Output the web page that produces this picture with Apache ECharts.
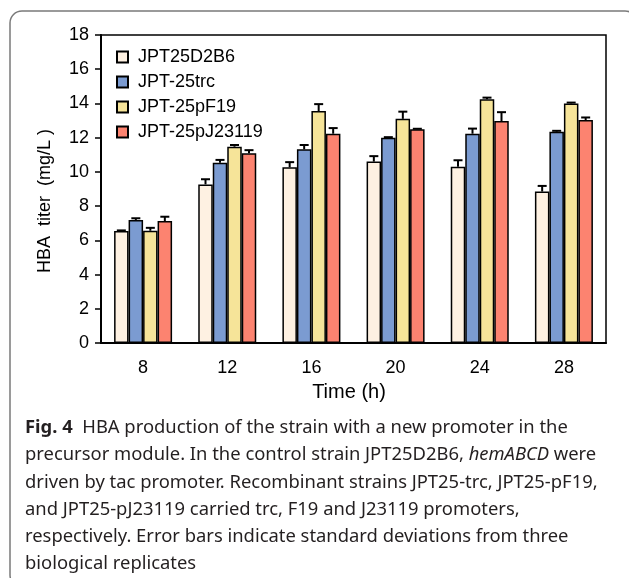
<!DOCTYPE html>
<html>
<head>
<meta charset="utf-8">
<script src="https://cdn.jsdelivr.net/npm/echarts@6/dist/echarts.min.js"></script>
<style>
  html, body { margin: 0; padding: 0; background: #fff; }
  #chart { width: 629px; height: 578px; }
</style>
</head>
<body>
<div id="chart"></div>
<script>
// time points (h)
const times = ["8", "12", "16", "20", "24", "28"]
const strains = ["JPT25D2B6", "JPT-25trc", "JPT-25pF19", "JPT-25pJ23119"]
const colors = ["#FEF1E2", "#7B9BD1", "#F6E499", "#FC8370"]

// HBA titer, mg/L
const d2b6 = [6.55, 9.27, 10.27, 10.6, 10.3, 8.85]
const trc = [7.19, 10.54, 11.32, 12.0, 12.23, 12.35]
const pf19 = [6.56, 11.47, 13.56, 13.1, 14.24, 14.0]
const pj23119 = [7.13, 11.09, 12.23, 12.49, 12.97, 13.03]

// standard deviations
const d2b6Err = [0.03, 0.3, 0.3, 0.32, 0.38, 0.33]
const trcErr = [0.1, 0.16, 0.25, 0.03, 0.3, 0.05]
const pf19Err = [0.17, 0.1, 0.4, 0.42, 0.1, 0.05]
const pj23119Err = [0.25, 0.18, 0.33, 0.03, 0.52, 0.15]

const yTicks = [0, 2, 4, 6, 8, 10, 12, 14, 16, 18]

const values = [d2b6, trc, pf19, pj23119]
const errors = [d2b6Err, trcErr, pf19Err, pj23119Err]

const BAR_W = 14.5
const ARIAL = '"Liberation Sans", Arial, sans-serif'

const chart = echarts.init(document.getElementById("chart"), null, { renderer: "canvas" })

const barSeries = strains.map((name, i) => ({
  name: name,
  type: "bar",
  data: values[i],
  barWidth: BAR_W,
  barGap: "0%",
  itemStyle: { color: colors[i], borderColor: "#000", borderWidth: 1.5 },
  z: 2,
}))

// error bars: stem + cap on top of each bar
const errSeries = strains.map((name, i) => ({
  name: "err-" + name,
  type: "custom",
  z: 3,
  data: values[i].map((v, k) => [k, v, errors[i][k]]),
  renderItem: (params, api) => {
    const k = api.value(0)
    const v = api.value(1)
    const e = api.value(2)
    const base = api.coord([k, v])
    const top = api.coord([k, v + e])
    const x = base[0] + (i - 1.5) * BAR_W
    const style = { stroke: "#000", lineWidth: 2, fill: null }
    return {
      type: "group",
      children: [
        { type: "line", shape: { x1: x, y1: base[1], x2: x, y2: top[1] }, style },
        { type: "line", shape: { x1: x - 4.5, y1: top[1], x2: x + 4.5, y2: top[1] }, style },
      ],
    }
  },
}))

const captionFont = '"Noto Sans", sans-serif'
const captionLines = [
  "{b|Fig. 4}  HBA production of the strain with a new promoter in the",
  "precursor module. In the control strain JPT25D2B6, {i|hemABCD} were",
  "driven by tac promoter. Recombinant strains JPT25-trc, JPT25-pF19,",
  "and JPT25-pJ23119 carried trc, F19 and J23119 promoters,",
  "respectively. Error bars indicate standard deviations from three",
  "biological replicates",
]

const captionGraphics = captionLines.map((line, n) => ({
  type: "text",
  left: 25,
  top: 419 + n * 27.2,
  style: {
    text: line,
    fontFamily: captionFont,
    fontSize: 18.4,
    fill: "#231F20",
    rich: {
      b: { fontFamily: captionFont, fontSize: 18.4, fontWeight: "bold", fill: "#231F20" },
      i: { fontFamily: captionFont, fontSize: 18.4, fontStyle: "italic", fill: "#231F20" },
    },
  },
}))

chart.setOption({
  animation: false,
  textStyle: { fontFamily: ARIAL },
  grid: {
    left: 101, top: 35, width: 505, height: 308,
    show: true, borderColor: "#000", borderWidth: 1.5,
  },
  legend: {
    data: strains,
    orient: "vertical",
    left: 111, top: 43,
    icon: "rect",
    itemWidth: 11, itemHeight: 11, itemGap: 7,
    textStyle: { fontSize: 18, color: "#000", fontFamily: ARIAL, padding: [0, 0, 0, 5] },
  },
  xAxis: {
    type: "category",
    data: times,
    axisLine: { lineStyle: { color: "#000", width: 2 } },
    axisTick: { show: false },
    axisLabel: { fontSize: 18, color: "#000", margin: 16 },
  },
  yAxis: {
    type: "value",
    min: yTicks[0], max: yTicks[yTicks.length - 1], interval: 2,
    axisLine: { show: true, lineStyle: { color: "#000", width: 2 } },
    axisTick: { show: true, length: 6, lineStyle: { color: "#000", width: 1.5 } },
    axisLabel: { fontSize: 18, color: "#000", margin: 12 },
    splitLine: { show: false },
  },
  graphic: [
    {
      type: "rect",
      shape: { x: 10, y: 11, width: 627, height: 576, r: 12 },
      style: { fill: null, stroke: "#7A7A7A", lineWidth: 1.5 },
      z: 0,
    },
    {
      type: "text",
      x: 45, y: 201,
      rotation: Math.PI / 2,
      style: {
        text: "HBA  titer  (mg/L )",
        fontFamily: ARIAL,
        fontSize: 18, fill: "#000",
        textAlign: "center", textVerticalAlign: "middle",
      },
    },
    {
      type: "text",
      x: 349, y: 392,
      style: {
        text: "Time (h)",
        fontFamily: ARIAL,
        fontSize: 20, fill: "#000",
        textAlign: "center", textVerticalAlign: "middle",
      },
    },
    ...captionGraphics,
  ],
  series: [...barSeries, ...errSeries],
})
</script>
</body>
</html>
